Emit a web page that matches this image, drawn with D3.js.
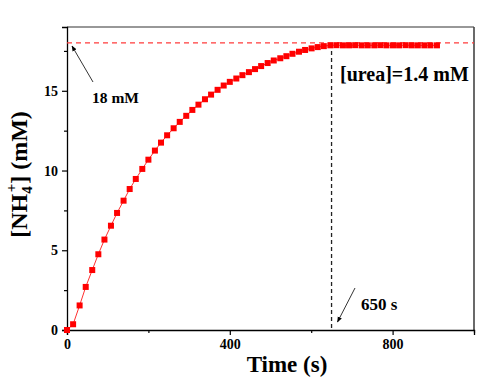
<!DOCTYPE html>
<html>
<head>
<meta charset="utf-8">
<script src="https://cdn.jsdelivr.net/npm/d3@7"></script>
<style>
  body { margin: 0; background: #fff; }
  text { font-family: "Liberation Serif", "Times New Roman", serif; font-weight: bold; }
</style>
</head>
<body>
<div id="chart"></div>
<script>
const canvWidth = 500, canvHeight = 381;
const margin = {top: 27, right: 26, bottom: 51, left: 67};
const width = canvWidth - margin.left - margin.right;
const height = canvHeight - margin.top - margin.bottom;

const time = [0, 15, 31, 46, 62, 77, 92, 108, 123, 139, 154, 169, 185, 200, 216, 231, 246, 262, 277, 293,
  308, 323, 339, 354, 370, 385, 400, 416, 431, 447, 462, 477, 493, 508, 524, 539, 554, 570, 585, 601,
  616, 631, 647, 662, 678, 693, 708, 724, 739, 755, 770, 785, 801, 816, 832, 847, 862, 878, 893, 909];
const nh4 = [0, 0.36, 1.54, 2.70, 3.76, 4.75, 5.67, 6.54, 7.34, 8.11, 8.84, 9.47, 10.10, 10.68, 11.25, 11.75,
  12.21, 12.65, 13.05, 13.43, 13.80, 14.13, 14.47, 14.76, 15.06, 15.33, 15.56, 15.77, 15.98, 16.17, 16.36,
  16.55, 16.74, 16.90, 17.04, 17.17, 17.32, 17.45, 17.56, 17.66, 17.74, 17.80, 17.85, 17.86, 17.85, 17.85,
  17.86, 17.85, 17.85, 17.85, 17.86, 17.85, 17.85, 17.85, 17.86, 17.85, 17.85, 17.85, 17.85, 17.85];
const xTicks = [0, 400, 800];
const xMinorTicks = [200, 600, 1000];
const yTicks = [0, 5, 10, 15];
const yMinorTicks = [2.5, 7.5, 12.5, 17.5];
const saturation = 18;     // mM, dashed red line
const plateauTime = 650;   // s, dashed black line

const data = time.map((t, i) => ({t: t, v: nh4[i]}));

const svg = d3.select('#chart')
    .append('svg')
    .attr('width', canvWidth)
    .attr('height', canvHeight)
    .append('g')
    .attr('transform', `translate(${margin.left},${margin.top})`);

const x = d3.scaleLinear().domain([0, 1000]).range([0, width]);
const y = d3.scaleLinear().domain([0, 19]).range([height, 0]);

// frame (top and right)
svg.append('line').attr('x1', 0).attr('x2', width).attr('y1', 0).attr('y2', 0)
    .attr('stroke', '#333').attr('stroke-width', 1.2);
svg.append('line').attr('x1', width).attr('x2', width).attr('y1', 0).attr('y2', height)
    .attr('stroke', '#444').attr('stroke-width', 1.6);

// x axis
svg.append('g')
    .attr('transform', `translate(0,${height})`)
    .call(d3.axisBottom(x).tickValues(xTicks).tickSize(5).tickPadding(4).tickFormat(d3.format('d')));
svg.append('g')
    .attr('transform', `translate(0,${height})`)
    .call(d3.axisBottom(x).tickValues(xMinorTicks).tickSize(3).tickFormat(''))
    .call(g => g.select('.domain').remove());

// y axis
svg.append('g')
    .call(d3.axisLeft(y).tickValues(yTicks).tickSize(5).tickPadding(4));
svg.append('g')
    .call(d3.axisLeft(y).tickValues(yMinorTicks).tickSize(3).tickFormat(''))
    .call(g => g.select('.domain').remove());

svg.selectAll('.domain').attr('stroke', '#000').attr('stroke-width', 1.3);
svg.selectAll('.tick line').attr('stroke', '#000').attr('stroke-width', 1.2);
svg.selectAll('.tick text')
    .style('font-family', '"Liberation Serif", serif')
    .style('font-weight', 'bold')
    .style('font-size', '14px')
    .attr('fill', '#000');

// reference lines
svg.append('line')
    .attr('x1', 0).attr('x2', width)
    .attr('y1', y(saturation)).attr('y2', y(saturation))
    .attr('stroke', '#ff3b3b').attr('stroke-width', 1.2)
    .attr('stroke-dasharray', '5,4');
svg.append('line')
    .attr('x1', x(plateauTime)).attr('x2', x(plateauTime))
    .attr('y1', y(17.5)).attr('y2', height)
    .attr('stroke', '#222').attr('stroke-width', 1.3)
    .attr('stroke-dasharray', '4,3');

// data line and squares
svg.append('path')
    .datum(data)
    .attr('fill', 'none')
    .attr('stroke', '#ff3030')
    .attr('stroke-width', 1)
    .attr('d', d3.line().x(d => x(d.t)).y(d => y(d.v)));

const sq = 6;
svg.append('g')
    .selectAll('rect')
    .data(data)
    .enter()
    .append('rect')
    .attr('x', d => x(d.t) - sq / 2)
    .attr('y', d => y(d.v) - sq / 2)
    .attr('width', sq)
    .attr('height', sq)
    .attr('fill', '#ff0000');

// arrows
svg.append('defs').append('marker')
    .attr('id', 'arrow')
    .attr('viewBox', '0 0 10 10')
    .attr('refX', 9).attr('refY', 5)
    .attr('markerWidth', 7).attr('markerHeight', 7)
    .attr('orient', 'auto-start-reverse')
    .append('path')
    .attr('d', 'M0,1 L10,5 L0,9 Z')
    .attr('fill', '#000');

svg.append('line')
    .attr('x1', 26).attr('y1', 55)
    .attr('x2', 5).attr('y2', 19)
    .attr('stroke', '#000').attr('stroke-width', 0.8)
    .attr('marker-end', 'url(#arrow)');
svg.append('line')
    .attr('x1', 288).attr('y1', 261)
    .attr('x2', 270.5).attr('y2', 295)
    .attr('stroke', '#000').attr('stroke-width', 0.8)
    .attr('marker-end', 'url(#arrow)');

// annotations
svg.append('text').attr('x', 25).attr('y', 76)
    .style('font-size', '15.5px').text('18 mM');
svg.append('text').attr('x', 273).attr('y', 54)
    .style('font-size', '20px').text('[urea]=1.4 mM');
svg.append('text').attr('x', 294).attr('y', 283)
    .style('font-size', '17px').text('650 s');

// axis titles
svg.append('text')
    .attr('x', 220)
    .attr('y', height + 42)
    .style('text-anchor', 'middle')
    .style('font-size', '23px')
    .text('Time (s)');

const yTitle = svg.append('text')
    .attr('transform', `translate(${-40},${height / 2 - 4}) rotate(-90)`)
    .style('text-anchor', 'middle')
    .style('font-size', '24px');
yTitle.append('tspan').text('[NH');
yTitle.append('tspan').attr('dy', 5).style('font-size', '15px').text('4');
yTitle.append('tspan').attr('dy', -16).attr('dx', -6).style('font-size', '15px').text('+');
yTitle.append('tspan').attr('dy', 11).text('] (mM)');
</script>
</body>
</html>
